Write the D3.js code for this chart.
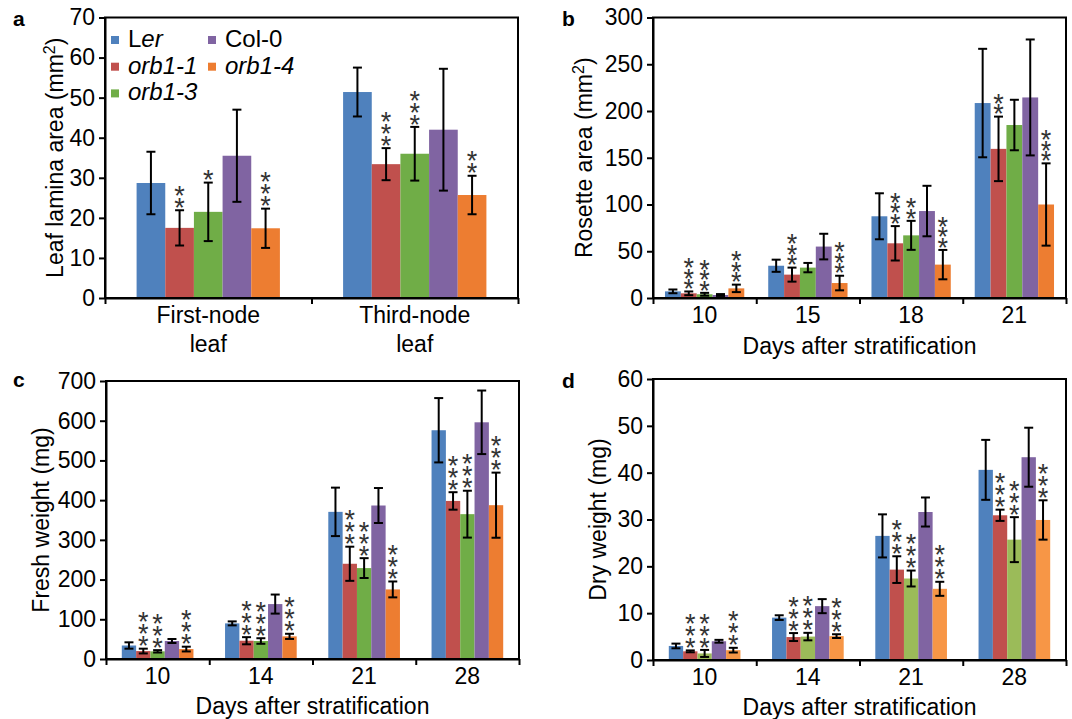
<!DOCTYPE html>
<html>
<head>
<meta charset="utf-8">
<script src="https://cdn.jsdelivr.net/npm/d3@7"></script>
<style>
  body { margin: 0; background: #fff; }
  svg { display: block; font-family: "Liberation Sans", Arial, sans-serif; }
</style>
</head>
<body>
<script>
// genotypes, same order in every panel
const genotypes = ["Ler", "orb1-1", "orb1-3", "Col-0", "orb1-4"];

// panel a - leaf lamina area (mm2)
const leafCategories = [["First-node", "leaf"], ["Third-node", "leaf"]];
const leafMeans  = [[28.7, 17.5, 21.5, 35.5, 17.4], [51.4, 33.4, 36.0, 42.0, 25.7]];
const leafErrors = [[7.8, 4.4, 7.3, 11.5, 4.9], [6.1, 4.0, 6.7, 15.2, 4.8]];
const leafStars  = [["", "**", "*", "", "***"], ["", "***", "***", "", "**"]];
const leafTicks  = [0, 10, 20, 30, 40, 50, 60, 70];

// panel b - rosette area (mm2)
const rosetteDays   = ["10", "15", "18", "21"];
const rosetteMeans  = [[7.1, 5.0, 4.0, 3.2, 10.3], [34.5, 25.0, 32.5, 55.0, 16.0],
                       [87.4, 58.5, 67.0, 93.0, 35.7], [208.5, 159.5, 185.0, 214.5, 100.0]];
const rosetteErrors = [[2.0, 2.0, 1.5, 1.0, 4.0], [6.5, 7.5, 5.0, 13.7, 7.8],
                       [24.6, 18.4, 15.5, 27.0, 15.7], [58.0, 34.5, 27.0, 62.0, 44.0]];
const rosetteStars  = [["", "***", "***", "", "***"], ["", "***", "", "", "***"],
                       ["", "***", "**", "", "***"], ["", "**", "", "", "***"]];
const rosetteTicks  = [0, 50, 100, 150, 200, 250, 300];

// panel c - fresh weight (mg)
const freshDays   = ["10", "14", "21", "28"];
const freshMeans  = [[34.0, 20.0, 19.3, 45.3, 25.0], [89.7, 46.0, 45.3, 138.3, 57.0],
                     [370.5, 239.8, 228.9, 386.5, 175.2], [576.0, 398.0, 364.7, 596.0, 387.3]];
const freshErrors = [[8, 6, 3, 5, 6], [5, 9, 7, 24, 6.5], [61, 43, 25, 44, 20], [81, 22, 59, 80, 82]];
const freshStars  = [["", "***", "***", "", "***"], ["", "***", "***", "", "***"],
                     ["", "***", "***", "", "***"], ["", "***", "***", "", "***"]];
const freshTicks  = [0, 100, 200, 300, 400, 500, 600, 700];

// panel d - dry weight (mg)
const dryDays   = ["10", "14", "21", "28"];
const dryMeans  = [[3.0, 1.85, 1.4, 4.0, 2.1], [9.05, 4.9, 5.0, 11.5, 5.1],
                   [26.5, 19.3, 17.4, 31.6, 15.2], [40.6, 30.9, 25.7, 43.3, 29.9]];
const dryErrors = [[0.5, 0.2, 0.75, 0.3, 0.5], [0.5, 0.85, 0.8, 1.5, 0.4],
                   [4.6, 2.85, 1.7, 3.1, 1.5], [6.4, 1.2, 4.8, 6.3, 4.2]];
const dryStars  = [["", "***", "***", "", "***"], ["", "***", "***", "", "***"],
                   ["", "***", "***", "", "***"], ["", "***", "***", "", "***"]];
const dryTicks  = [0, 10, 20, 30, 40, 50, 60];

const colorsMain = ["#4F81BD", "#C0504D", "#70AD47", "#8064A2", "#ED7D31"];
const colorsDry  = ["#4F81BD", "#C0504D", "#9BBB59", "#8064A2", "#F79646"];

var svg = d3.select("body").append("svg")
    .attr("width", 1072)
    .attr("height", 719);

function drawPanel(p) {
    var g = svg.append("g");

    var x = d3.scaleBand()
        .domain(d3.range(p.means.length))
        .range([p.left, p.right]);

    var pad = x.bandwidth() * (1 - p.fill) / 2;
    var xInner = d3.scaleBand()
        .domain(d3.range(genotypes.length))
        .range([pad, x.bandwidth() - pad]);

    var y = d3.scaleLinear()
        .domain([0, p.ticks[p.ticks.length - 1]])
        .range([p.bottom, p.top]);

    function mid(d) { return x(d.cat) + xInner(d.gen) + xInner.bandwidth() / 2; }

    // flatten into one row per bar
    var rows = [];
    p.means.forEach(function(grp, i) {
        grp.forEach(function(v, j) {
            rows.push({cat: i, gen: j, mean: v, err: p.errors[i][j], stars: p.stars[i][j]});
        });
    });

    g.selectAll(".bar")
        .data(rows)
        .enter()
        .append("rect")
        .attr("class", "bar")
        .attr("x", function(d) { return x(d.cat) + xInner(d.gen); })
        .attr("y", function(d) { return y(d.mean); })
        .attr("width", xInner.bandwidth())
        .attr("height", function(d) { return y(0) - y(d.mean); })
        .attr("fill", function(d) { return p.colors[d.gen]; });

    // error bars
    var cap = 4.5;
    var eb = g.selectAll(".err")
        .data(rows)
        .enter()
        .append("g")
        .attr("class", "err")
        .attr("stroke", "#000")
        .attr("stroke-width", 2);
    eb.append("line")
        .attr("x1", mid)
        .attr("x2", mid)
        .attr("y1", function(d) { return y(d.mean + d.err); })
        .attr("y2", function(d) { return y(Math.max(0, d.mean - d.err)); });
    eb.append("line")
        .attr("x1", function(d) { return mid(d) - cap; })
        .attr("x2", function(d) { return mid(d) + cap; })
        .attr("y1", function(d) { return y(d.mean + d.err); })
        .attr("y2", function(d) { return y(d.mean + d.err); });
    eb.append("line")
        .attr("x1", function(d) { return mid(d) - cap; })
        .attr("x2", function(d) { return mid(d) + cap; })
        .attr("y1", function(d) { return y(Math.max(0, d.mean - d.err)); })
        .attr("y2", function(d) { return y(Math.max(0, d.mean - d.err)); });

    // significance stars, one text per bar, stacked upward from the error bar top
    var starSize = 27;
    g.selectAll(".stars")
        .data(rows.filter(function(d) { return d.stars.length > 0; }))
        .enter()
        .append("text")
        .attr("class", "stars")
        .attr("text-anchor", "middle")
        .attr("font-size", starSize)
        .attr("fill", "#333")
        .each(function(d) {
            var t = d3.select(this);
            var n = d.stars.length;
            // glyph centre sits about 0.58em above the baseline
            var base = y(d.mean + d.err) - 9 - (n - 1) * p.starStep + 0.58 * starSize;
            for (var k = 0; k < n; k++) {
                t.append("tspan")
                    .attr("x", mid(d))
                    .attr("y", base + k * p.starStep)
                    .text("*");
            }
        });

    // frame
    g.append("rect")
        .attr("x", p.left)
        .attr("y", p.top)
        .attr("width", p.right - p.left)
        .attr("height", p.bottom - p.top)
        .attr("fill", "none")
        .attr("stroke", "#000")
        .attr("stroke-width", 2);

    // y axis
    var yAxis = d3.axisLeft(y)
        .tickValues(p.ticks)
        .tickSize(6)
        .tickSizeOuter(0)
        .tickPadding(4);
    var ya = g.append("g")
        .attr("transform", "translate(" + p.left + ",0)")
        .call(yAxis);
    ya.select(".domain").attr("stroke-width", 2);
    ya.selectAll(".tick line").attr("stroke-width", 2);
    ya.selectAll(".tick text")
        .attr("font-size", 23)
        .attr("font-family", "Liberation Sans, Arial, sans-serif")
        .attr("fill", "#000");

    // x axis: ticks between the groups
    var xEdge = d3.scaleLinear().domain([0, p.means.length]).range([p.left, p.right]);
    var xAxis = d3.axisBottom(xEdge)
        .tickValues(d3.range(p.means.length + 1))
        .tickSize(6)
        .tickSizeOuter(0)
        .tickFormat("");
    var xa = g.append("g")
        .attr("transform", "translate(0," + p.bottom + ")")
        .call(xAxis);
    xa.select(".domain").attr("stroke-width", 2);
    xa.selectAll(".tick line").attr("stroke-width", 2);

    // category labels
    p.labels.forEach(function(lab, i) {
        var t = g.append("text")
            .attr("x", x(i) + x.bandwidth() / 2)
            .attr("y", p.bottom + 25)
            .attr("text-anchor", "middle")
            .attr("font-size", 23);
        [].concat(lab).forEach(function(line, k) {
            t.append("tspan")
                .attr("x", x(i) + x.bandwidth() / 2)
                .attr("dy", k === 0 ? 0 : 29)
                .text(line);
        });
    });

    // axis titles
    var yt = g.append("text")
        .attr("transform", "translate(" + p.yTitleX + "," + ((p.top + p.bottom) / 2) + ") rotate(-90)")
        .attr("text-anchor", "middle")
        .attr("font-size", 23);
    yt.append("tspan").text(p.yTitle[0]);
    if (p.yTitle.length > 1) {
        yt.append("tspan").attr("dy", -8).attr("font-size", 16).text(p.yTitle[1]);
        yt.append("tspan").attr("dy", 8).text(p.yTitle[2]);
    }

    if (p.xTitle) {
        g.append("text")
            .attr("x", (p.left + p.right) / 2)
            .attr("y", p.xTitleY)
            .attr("text-anchor", "middle")
            .attr("font-size", 23)
            .text(p.xTitle);
    }

    // panel letter
    g.append("text")
        .attr("x", p.letterX)
        .attr("y", p.letterY)
        .attr("font-size", 21)
        .attr("font-weight", "bold")
        .text(p.letter);

    return {x: x, y: y, g: g};
}

var pa = drawPanel({
    means: leafMeans, errors: leafErrors, stars: leafStars, ticks: leafTicks,
    labels: leafCategories, colors: colorsMain,
    left: 105, right: 518, top: 17.5, bottom: 298, fill: 0.694, starStep: 12,
    yTitle: ["Leaf lamina area (mm", "2", ")"], yTitleX: 63,
    letter: "a", letterX: 13, letterY: 26
});

drawPanel({
    means: rosetteMeans, errors: rosetteErrors, stars: rosetteStars, ticks: rosetteTicks,
    labels: rosetteDays, colors: colorsMain,
    left: 653, right: 1066, top: 17.5, bottom: 298, fill: 0.768, starStep: 10.5,
    yTitle: ["Rosette area (mm", "2", ")"], yTitleX: 592,
    xTitle: "Days after stratification", xTitleY: 354,
    letter: "b", letterX: 562, letterY: 26
});

drawPanel({
    means: freshMeans, errors: freshErrors, stars: freshStars, ticks: freshTicks,
    labels: freshDays, colors: colorsMain,
    left: 106, right: 519, top: 381, bottom: 659, fill: 0.694, starStep: 12,
    yTitle: ["Fresh weight (mg)"], yTitleX: 49,
    xTitle: "Days after stratification", xTitleY: 714,
    letter: "c", letterX: 13, letterY: 387
});

drawPanel({
    means: dryMeans, errors: dryErrors, stars: dryStars, ticks: dryTicks,
    labels: dryDays, colors: colorsDry,
    left: 653, right: 1066, top: 379, bottom: 660, fill: 0.694, starStep: 12,
    yTitle: ["Dry weight (mg)"], yTitleX: 606,
    xTitle: "Days after stratification", xTitleY: 715,
    letter: "d", letterX: 562, letterY: 388
});

// legend in panel a
var legend = pa.g.append("g");
var legX = [111, 208];
var legY = [40, 66.7, 93.4];
var legSlots = [[0, 0], [0, 1], [0, 2], [1, 0], [1, 1]];
genotypes.forEach(function(name, i) {
    var cx = legX[legSlots[i][0]];
    var cy = legY[legSlots[i][1]];
    legend.append("rect")
        .attr("x", cx)
        .attr("y", cy - 4)
        .attr("width", 8)
        .attr("height", 8)
        .attr("fill", colorsMain[i]);
    var t = legend.append("text")
        .attr("x", cx + 17)
        .attr("y", cy + 7)
        .attr("font-size", 24);
    if (name === "Ler") {
        t.append("tspan").text("L");
        t.append("tspan").attr("font-style", "italic").text("er");
    } else if (name === "Col-0") {
        t.text(name);
    } else {
        t.attr("font-style", "italic").text(name);
    }
});
</script>
</body>
</html>
